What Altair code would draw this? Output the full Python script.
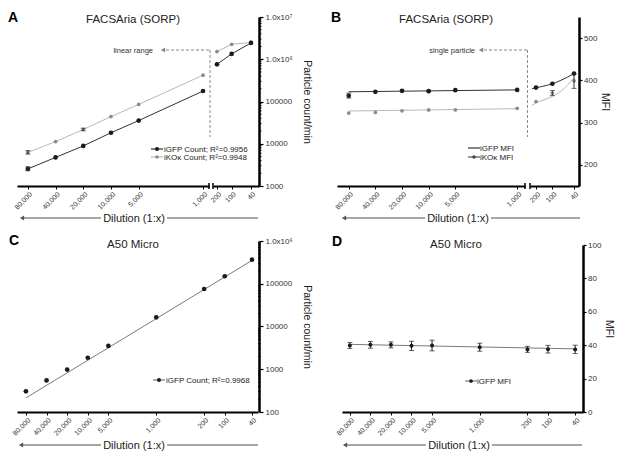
import altair as alt
import pandas as pd

FONT = "Liberation Sans"
DARK = "#1a1a1a"
DARK_LN = "#333333"
GRAY_PT = "#8c8c8c"
GRAY_LN = "#b8b8b8"
FIT_LN = "#7a7a7a"
ANN = "#8a8a8a"

# ---------------- data ----------------
dil_left = [80000, 40000, 20000, 10000, 5000, 1000]
dil_right = [200, 100, 40]
dil_all = dil_left + dil_right

# Panel A  (FACSAria counts)
a_igfp = [2540, 4750, 8890, 18200, 35400, 177000, 757000, 1340000, 2430000]
a_ikok = [6220, 11230, 21800, 43900, 85100, 420000, 1520000, 2260000, 2500000]
a_err_dil = [80000, 80000, 20000]
a_err_lo = [2300, 5700, 20300]
a_err_hi = [2850, 6900, 23300]

# Panel B  (FACSAria MFI)
b_igfp = [363.6, 372.9, 375.2, 374.4, 376.7, 377.5, 383, 392, 416]
b_ikok = [322.5, 324, 328, 330, 330, 334, 350, 370, 399]
b_err_dil = [80000, 100, 40]
b_err_lo = [358, 364, 381]
b_err_hi = [370, 376, 415]
b_fit_left_dil = [80000, 1000]
b_fit_left_igfp = [373, 377.5]
b_fit_left_ikok = [327.5, 333]
b_fit_right_dil = [237, 200, 150, 100, 70, 40]
b_fit_right_igfp = [380, 382.5, 386, 392, 400, 416]
b_fit_right_ikok = [341, 346.5, 353, 362, 374, 406]

# Panel C  (A50 Micro counts)
c_igfp = [305, 547, 982, 1860, 3520, 16400, 75300, 150000, 365000]
c_fit_dil = [80000, 40]
c_fit = [214, 352000]

# Panel D  (A50 Micro MFI)
d_igfp = [39.8, 40.2, 40.2, 39.6, 39.8, 38.8, 37.5, 37.6, 37.5]
d_err = [1.8, 2.0, 1.8, 2.8, 3.2, 2.4, 1.8, 2.3, 2.5]
d_fit_dil = [80000, 40]
d_fit = [40.5, 37.8]

# axis tick values / labels
a_yticks = [1000, 10000, 100000, 1000000, 10000000]
a_ylabels = ["1000", "10000", "100000", "1.0x10\u2076", "1.0x10\u2077"]
c_yticks = [100, 1000, 10000, 100000, 1000000]
c_ylabels = ["100", "1000", "10000", "100000", "1.0x10\u2076"]
b_yticks = [200, 300, 400, 500]
d_yticks = [0, 20, 40, 60, 80, 100]
minor_mult = [2, 3, 4, 5, 6, 7, 8, 9]
a_decades = [1000, 10000, 100000, 1000000]
c_decades = [100, 1000, 10000, 100000]

ONE = pd.DataFrame({"k": [0]})


# ---------------- helpers ----------------
def xs_log(lo, hi, r0, r1):
    # r0 = pixel of the largest dilution (left), r1 = pixel of the smallest
    return alt.Scale(type="log", domain=[lo, hi], range=[r1, r0], nice=False)


def ys_log(lo, hi):
    return alt.Scale(type="log", domain=[lo, hi], nice=False)


def xaxis(vals):
    return alt.Axis(orient="bottom", values=vals, format=",", labelAngle=-45, labelFontSize=7,
                    labelColor="#333", tickSize=3, tickColor="black",
                    domainColor="black", domainWidth=1.8, labelPadding=1,
                    title=None, grid=False, labelFlush=False, labelOverlap=False)


def label_expr(vals, labels):
    e = "''"
    for v, l in zip(vals, labels):
        e = f"abs(datum.value - {v}) < {v}*0.000001 ? '{l}' : ({e})"
    return e


def yaxis(vals, title, labels=None, title_pad=8, tick=4, lpad=2):
    kw = dict(orient="right", values=vals, title=title, labelFontSize=8,
              labelColor="#333", tickSize=tick, tickColor="black", tickWidth=1.2,
              domainColor="black", domainWidth=2.5, labelPadding=lpad,
              titleFontSize=10.5, titleFontWeight="normal", titleColor="#222",
              titlePadding=title_pad, grid=False, labelFlush=False, labelOverlap=False)
    if labels is not None:
        kw["labelExpr"] = label_expr(vals, labels)
    return alt.Axis(**kw)


def series(dils, vals, xs, ys, xax, yax, pt_color, pt_size, line_color=None, interp="linear"):
    df = pd.DataFrame({"dil": dils, "val": vals})
    base = alt.Chart(df).encode(x=alt.X("dil:Q", scale=xs, axis=xax),
                                y=alt.Y("val:Q", scale=ys, axis=yax))
    out = []
    if line_color:
        out.append(base.mark_line(color=line_color, strokeWidth=1, interpolate=interp))
    if pt_color:
        out.append(base.mark_circle(color=pt_color, size=pt_size, opacity=1))
    return out


def errbars(dils, lo, hi, xs, ys, xax, yax, color="#333", cap=5):
    df = pd.DataFrame({"dil": dils, "lo": lo, "hi": hi})
    base = alt.Chart(df).encode(x=alt.X("dil:Q", scale=xs, axis=xax))
    return [
        base.mark_rule(color=color, strokeWidth=1).encode(
            y=alt.Y("lo:Q", scale=ys, axis=yax), y2="hi:Q"),
        base.mark_tick(color=color, orient="horizontal", size=cap, thickness=1).encode(
            y=alt.Y("lo:Q", scale=ys, axis=yax)),
        base.mark_tick(color=color, orient="horizontal", size=cap, thickness=1).encode(
            y=alt.Y("hi:Q", scale=ys, axis=yax)),
    ]


def minor_ticks(decades, ys, yax, width):
    vals = [d * m for d in decades for m in minor_mult]
    df = pd.DataFrame({"v": vals})
    return alt.Chart(df).mark_rule(color="black", strokeWidth=1).encode(
        y=alt.Y("v:Q", scale=ys, axis=yax), x=alt.value(width), x2=alt.value(width + 2.5))


def txt(s, x, y, size, align="left", weight="normal", color="#222"):
    return alt.Chart(pd.DataFrame({"t": [s]})).mark_text(
        align=align, baseline="alphabetic", fontSize=size, fontWeight=weight,
        color=color).encode(x=alt.value(x), y=alt.value(y), text="t:N")


def hline(x1, x2, y, color, width=1.0, dash=None):
    mk = dict(color=color, strokeWidth=width)
    if dash:
        mk["strokeDash"] = dash
    return alt.Chart(ONE).mark_rule(**mk).encode(
        x=alt.value(x1), x2=alt.value(x2), y=alt.value(y))


def vline(x, y1, y2, color, width=1.0, dash=None):
    mk = dict(color=color, strokeWidth=width)
    if dash:
        mk["strokeDash"] = dash
    return alt.Chart(ONE).mark_rule(**mk).encode(
        x=alt.value(x), y=alt.value(y1), y2=alt.value(y2))


def arrow_left(x, y, color, size=28):
    return alt.Chart(ONE).mark_point(shape="triangle-left", filled=True, size=size,
                                     color=color, opacity=1).encode(
        x=alt.value(x), y=alt.value(y))


def dot(x, y, color, size):
    return alt.Chart(ONE).mark_circle(color=color, size=size, opacity=1).encode(
        x=alt.value(x), y=alt.value(y))


def dilution(x_tip, x_end, y, x_text, half=33):
    return [
        hline(x_tip + 2, x_text - half, y, "#8a8a8a", 1.6),
        hline(x_text + half, x_end, y, "#8a8a8a", 1.6),
        arrow_left(x_tip + 2, y, "#555", 24),
        txt("Dilution (1:x)", x_text, y + 4, 11, align="center"),
    ]


def annot(label, x_txt_end, x_tip, x_vert, y, y_bot):
    return [
        txt(label, x_txt_end, y + 3, 7.5, align="right", color="#333"),
        arrow_left(x_tip, y, "#888", 26),
        hline(x_tip + 3, x_vert, y, ANN, 1, [3, 2]),
        vline(x_vert, y, y_bot, ANN, 1, [3, 2]),
    ]


def legend_row(xs_, xt, y, label, ln_color, pt_color, pt_size):
    out = []
    if ln_color:
        out.append(hline(xs_ - 6, xs_ + 6, y, ln_color, 1.2))
    if pt_color:
        out.append(dot(xs_, y, pt_color, pt_size))
    out.append(txt(label, xt, y + 3, 8, color="#222"))
    return out


H1 = 169
H2 = 171
TSIZE = 11.5

# ---------------- Panel A ----------------
WA, WAL, GA = 242, 192, 196
xA_L = xs_log(861, 105000, 0, WAL)
xA_R = xs_log(27.4, 241.5, GA, WA)
yA = ys_log(1000, 10000000)
axA = yaxis(a_yticks, "Particle count/min", a_ylabels, title_pad=9)

A_left = alt.layer(
    *series(dil_left, a_ikok[:6], xA_L, yA, xaxis(dil_left), axA, GRAY_PT, 14, GRAY_LN),
    *series(dil_left, a_igfp[:6], xA_L, yA, xaxis(dil_left), axA, DARK, 22, DARK_LN),
    *errbars(a_err_dil, a_err_lo, a_err_hi, xA_L, yA, xaxis(dil_left), axA),
)
A_right = alt.layer(
    *series(dil_right, a_ikok[6:], xA_R, yA, xaxis(dil_right), axA, GRAY_PT, 14, GRAY_LN),
    *series(dil_right, a_igfp[6:], xA_R, yA, xaxis(dil_right), axA, DARK, 22, DARK_LN),
    minor_ticks(a_decades, yA, axA, WA),
)
panelA = alt.layer(
    A_left, A_right,
    txt("A", -9, 5, 14, weight="bold", color="black"),
    txt("FACSAria (SORP)", 116, 6, TSIZE, align="center"),
    *annot("linear range", 136, 146, WAL + 1, 33, 120),
    *dilution(3, 241, H1 + 32, 117),
    *legend_row(140, 147, 132, "iGFP Count; R\u00b2=0.9956", DARK_LN, DARK, 18),
    *legend_row(140, 147, 140, "iKO\u03ba Count; R\u00b2=0.9948", GRAY_LN, GRAY_PT, 12),
    vline(WAL, H1 - 3, H1 + 3, "black", 1.5),
    vline(GA, H1 - 3, H1 + 3, "black", 1.5),
).resolve_scale(x="independent").properties(width=WA, height=H1)

# ---------------- Panel B ----------------
WB, WBL, GB = 242, 188, 193
xB_L = xs_log(815.6, 108600, 0, WBL)
xB_R = xs_log(32.4, 257.8, GB, WB)
yB = alt.Scale(domain=[150, 550], nice=False, zero=False)
axB = yaxis(b_yticks, "MFI", title_pad=3, tick=3, lpad=1.5)

B_left = alt.layer(
    *series(b_fit_left_dil, b_fit_left_ikok, xB_L, yB, xaxis(dil_left), axB, None, 0, GRAY_LN),
    *series(b_fit_left_dil, b_fit_left_igfp, xB_L, yB, xaxis(dil_left), axB, None, 0, DARK_LN),
    *series(dil_left, b_ikok[:6], xB_L, yB, xaxis(dil_left), axB, GRAY_PT, 14),
    *series(dil_left, b_igfp[:6], xB_L, yB, xaxis(dil_left), axB, DARK, 22),
    *errbars(b_err_dil[:1], b_err_lo[:1], b_err_hi[:1], xB_L, yB, xaxis(dil_left), axB),
)
B_right = alt.layer(
    *series(b_fit_right_dil, b_fit_right_ikok, xB_R, yB, xaxis(dil_right), axB, None, 0, GRAY_LN, "monotone"),
    *series(b_fit_right_dil, b_fit_right_igfp, xB_R, yB, xaxis(dil_right), axB, None, 0, DARK_LN, "monotone"),
    *series(dil_right, b_ikok[6:], xB_R, yB, xaxis(dil_right), axB, GRAY_PT, 14),
    *series(dil_right, b_igfp[6:], xB_R, yB, xaxis(dil_right), axB, DARK, 22),
    *errbars(b_err_dil[1:], b_err_lo[1:], b_err_hi[1:], xB_R, yB, xaxis(dil_right), axB),
)
panelB = alt.layer(
    B_left, B_right,
    txt("B", -6, 5, 14, weight="bold", color="black"),
    txt("FACSAria (SORP)", 109, 6, TSIZE, align="center"),
    *annot("single particle", 138, 144, (WBL + GB) / 2, 33, 120),
    *dilution(5, 243, H1 + 32, 121),
    *legend_row(137, 143, 131, "iGFP MFI", DARK_LN, None, 0),
    *legend_row(137, 143, 140, "iKO\u03ba MFI", "#555", "#444", 12),
    vline(WBL, H1 - 3, H1 + 3, "black", 1.5),
    vline(GB, H1 - 3, H1 + 3, "black", 1.5),
).resolve_scale(x="independent").properties(width=WB, height=H1)

# ---------------- Panel C ----------------
WC = 242
xC = xs_log(32.7, 108000, 0, WC - 1)
yC = ys_log(100, 1000000)
axC = yaxis(c_yticks, "Particle count/min", c_ylabels, title_pad=9)

panelC = alt.layer(
    *series(c_fit_dil, c_fit, xC, yC, xaxis(dil_all), axC, None, 0, FIT_LN),
    *series(dil_all, c_igfp, xC, yC, xaxis(dil_all), axC, DARK, 22),
    minor_ticks(c_decades, yC, axC, WC - 1),
    txt("C", -8, 4, 14, weight="bold", color="black"),
    txt("A50 Micro", 116, 7, TSIZE, align="center"),
    *dilution(2, 241, H2 + 33, 117),
    *legend_row(142, 149, 139, "iGFP Count; R\u00b2=0.9968", FIT_LN, DARK, 16),
).properties(width=WC, height=H2)

# ---------------- Panel D ----------------
WD = 246
xD = xs_log(30.7, 104300, 5, WD)
yD = alt.Scale(domain=[0, 100], range=[H2, 4], nice=False, zero=False)
axD = yaxis(d_yticks, "MFI", title_pad=3, tick=3, lpad=1.5)
d_lo = [v - e for v, e in zip(d_igfp, d_err)]
d_hi = [v + e for v, e in zip(d_igfp, d_err)]

panelD = alt.layer(
    *series(d_fit_dil, d_fit, xD, yD, xaxis(dil_all), axD, None, 0, FIT_LN),
    *errbars(dil_all, d_lo, d_hi, xD, yD, xaxis(dil_all), axD, color="#222", cap=5),
    *series(dil_all, d_igfp, xD, yD, xaxis(dil_all), axD, DARK, 16),
    txt("D", -5, 5, 14, weight="bold", color="black"),
    txt("A50 Micro", 119, 7, TSIZE, align="center"),
    *dilution(6, 245, H2 + 33, 122),
    *legend_row(134, 140, 140, "iGFP MFI", FIT_LN, DARK, 14),
).properties(width=WD, height=H2)

chart = alt.concat(
    panelA, panelB, panelC, panelD, columns=2,
    spacing={"row": 55, "column": 78}, bounds="flush",
).properties(
    padding={"left": 0, "top": 3, "right": 4, "bottom": 0}
).configure(font=FONT).configure_view(stroke=None)

chart.save("out.html", embed_options={"renderer": "svg", "actions": False})
